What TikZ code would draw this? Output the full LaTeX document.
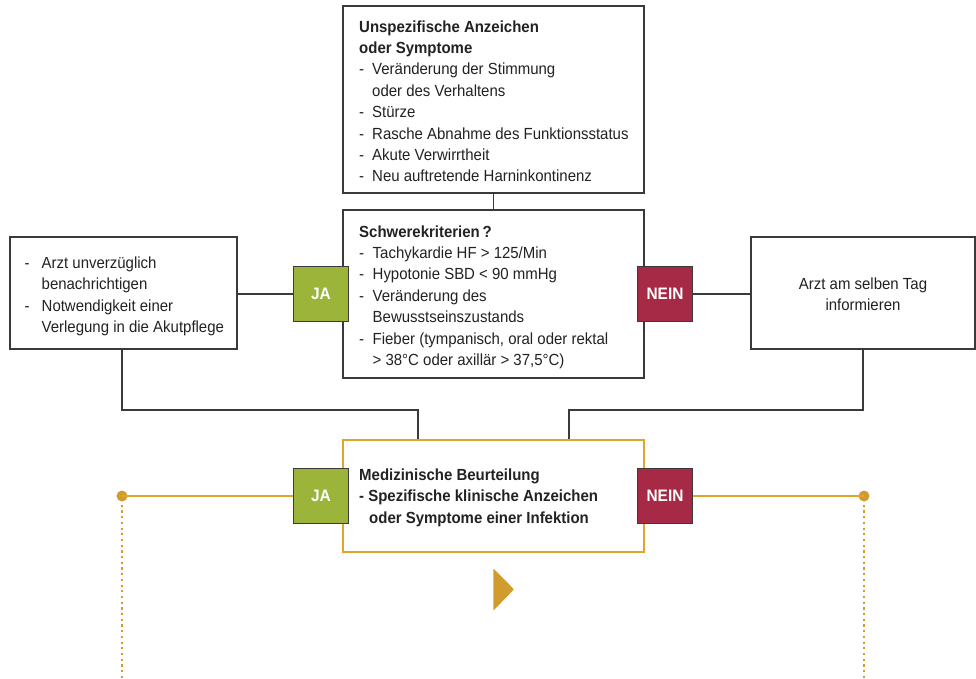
\documentclass[tikz,border=0pt]{standalone}
\usepackage{fontspec}
\setmainfont[FakeStretch=0.93]{Liberation Sans}
\definecolor{jagreen}{HTML}{9CB43A}
\definecolor{neinred}{HTML}{A62A45}
\definecolor{gold}{HTML}{E2A42C}
\definecolor{golddark}{HTML}{D19C2E}
\definecolor{boxgray}{HTML}{3A3A3A}
\definecolor{txt}{HTML}{222222}
\newcommand{\mydash}[1]{\makebox[#1][l]{-}}
\newcommand{\myind}[1]{\hspace*{#1}}
\newcommand{\txtfont}{\fontsize{16.1}{21.4}\selectfont}
\tikzset{
  graybox/.style={draw=boxgray, line width=1.3pt, fill=white, inner sep=0pt},
  goldbox/.style={draw=gold, line width=1.3pt, fill=white, inner sep=0pt},
  jabox/.style={draw=boxgray, line width=1.3pt, fill=jagreen, text=white, font=\fontsize{16.6}{18}\selectfont\bfseries, minimum width=55.5pt, minimum height=55pt, inner sep=0pt},
  neinbox/.style={draw=boxgray, line width=1.3pt, fill=neinred, text=white, font=\fontsize{16.6}{18}\selectfont\bfseries, minimum width=55.5pt, minimum height=55pt, inner sep=0pt},
  txtnode/.style={anchor=base west, inner sep=0pt, text=txt, font=\txtfont},
  conn/.style={draw=boxgray, line width=1.3pt},
  goldconn/.style={draw=gold, line width=1.4pt},
  golddots/.style={draw=golddark, line width=2.2pt, dash pattern=on 2.2pt off 3.5pt},
  golddot/.style={circle, fill=golddark, minimum size=11pt, inner sep=0pt},
}
\begin{document}
\begin{tikzpicture}[x=1pt,y=-1pt]
\useasboundingbox (0,0) rectangle (976,678);

% boxes
\node[graybox, minimum width=301pt, minimum height=187pt] (top) at (493.5,99.5) {};
\node[graybox, minimum width=301pt, minimum height=168pt] (schwere) at (493.5,294) {};
\node[graybox, minimum width=227pt, minimum height=112pt] (left) at (123.5,293) {};
\node[graybox, minimum width=224pt, minimum height=112pt] (right) at (863,293) {};
\node[goldbox, minimum width=301pt, minimum height=112pt] (med) at (493.5,496) {};

% connectors between boxes
\draw[conn] (top.south) -- (schwere.north);
\coordinate (lturn) at (122,410);
\coordinate (rturn) at (863,410);
\draw[conn] (left.south -| lturn) -- (lturn) -- (lturn -| 418,0) -- (med.north -| 418,0);
\draw[conn] (right.south -| rturn) -- (rturn) -- (rturn -| 569,0) -- (med.north -| 569,0);

% decision boxes upper
\node[jabox] (ja1) at (321,294) {JA};
\node[neinbox] (nein1) at (665,294) {NEIN};
\draw[conn] (left.east |- ja1) -- (ja1.west);
\draw[conn] (nein1.east) -- (right.west |- nein1);

% decision boxes lower
\node[jabox] (ja2) at (321,496) {JA};
\node[neinbox] (nein2) at (665,496) {NEIN};
\node[golddot] (dotl) at (122,496) {};
\node[golddot] (dotr) at (864,496) {};
\coordinate (endl) at (122,678);
\coordinate (endr) at (864,678);
\draw[goldconn] (ja2.west) -- (dotl.center);
\draw[goldconn] (nein2.east) -- (dotr.center);
\draw[golddots] (dotl.south) ++(0,3) -- (endl);
\draw[golddots] (dotr.south) ++(0,3) -- (endr);

% triangle
\fill[golddark, rounded corners=0.8pt] (493.3,568.3) -- (514,589.3) -- (493.3,610.7) -- cycle;

% texts
\node[txtnode] (ttop) at (359,32) {\parbox[t]{280pt}{\raggedright
\textbf{Unspezifische Anzeichen}\\
\textbf{oder Symptome}\\
\mydash{13pt}Veränderung der Stimmung\\
\myind{13pt}oder des Verhaltens\\
\mydash{13pt}Stürze\\
\mydash{13pt}Rasche Abnahme des Funktionsstatus\\
\mydash{13pt}Akute Verwirrtheit\\
\mydash{13pt}Neu auftretende Harninkontinenz}};

\node[txtnode] (tschwere) at (359,237) {\parbox[t]{280pt}{\raggedright
\textbf{Schwerekriterien\,?}\\
\mydash{13.5pt}Tachykardie HF > 125/Min\\
\mydash{13.5pt}Hypotonie SBD < 90 mmHg\\
\mydash{13.5pt}Veränderung des\\
\myind{13.5pt}Bewusstseinszustands\\
\mydash{13.5pt}Fieber (tympanisch, oral oder rektal\\
\myind{13.5pt}> 38°C oder axillär > 37,5°C)}};

\node[txtnode] (tleft) at (24.5,268.5) {\parbox[t]{210pt}{\raggedright
\mydash{17pt}Arzt unverzüglich\\
\myind{17pt}benachrichtigen\\
\mydash{17pt}Notwendigkeit einer\\
\myind{17pt}Verlegung in die Akutpflege}};

\node[txtnode, anchor=base, align=center] (tright) at (863,310.5) {Arzt am selben Tag\\informieren};

\node[txtnode] (tmed) at (359,480.5) {\parbox[t]{280pt}{\raggedright\bfseries
Medizinische Beurteilung\\
- Spezifische klinische Anzeichen\\
\myind{10pt}oder Symptome einer Infektion}};

\end{tikzpicture}
\end{document}
